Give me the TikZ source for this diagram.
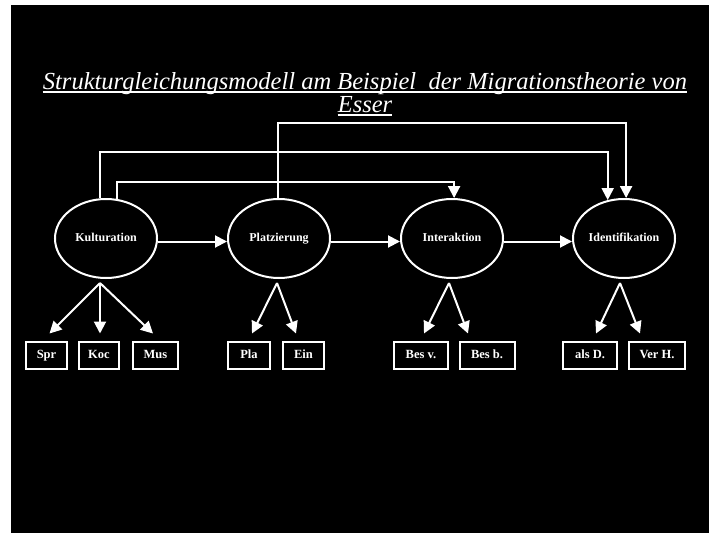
\documentclass[tikz,border=0pt]{standalone}
\usepackage{fontspec}
\setmainfont{Liberation Serif}
\usetikzlibrary{arrows.meta,shapes.geometric}
\begin{document}
\begin{tikzpicture}[x=1pt,y=-1pt,
  wire/.style={white,line width=2pt},
  arr/.style={wire,-{Triangle[length=12pt,width=12pt]}},
  latent/.style={ellipse,draw=white,line width=2pt,minimum width=102pt,
    minimum height=79pt,inner sep=0pt,text=white,text height=8.5pt,
    text depth=2.5pt,font=\bfseries\fontsize{12}{14}\selectfont},
  indicator/.style={rectangle,draw=white,fill=black,line width=2pt,
    minimum height=27pt,inner sep=0pt,text=white,text height=8.5pt,
    text depth=2.5pt,font=\bfseries\fontsize{12.5}{14}\selectfont},
  heading/.style={text=white,inner sep=0pt,
    font=\itshape\fontsize{24.5}{28}\selectfont},
  uline/.style={white,line width=1.4pt}]
\useasboundingbox (0,0) rectangle (709,533);
\fill[white] (0,0) rectangle (709,533);
\fill[black] (11,5) rectangle (709,533);

% heading, underlined
\node[heading,anchor=base] (t1) at (365,89)
  {Strukturgleichungsmodell am Beispiel\ \ der Migrationstheorie von};
\node[heading,anchor=base] (t2) at (365,112) {Esser};
\draw[uline] ([yshift=-3pt]t1.base west) -- ([yshift=-3pt]t1.base east);
\draw[uline] ([yshift=-3pt]t2.base west) -- ([yshift=-3pt]t2.base east);

% latent variables
\node[latent] (kul) at (106,238.5) {Kulturation};
\node[latent] (pla) at (279,238.5) {Platzierung};
\node[latent] (int) at (452,238.5) {Interaktion};
\node[latent] (ide) at (624,238.5) {Identifikation};

% indicators
\node[indicator,minimum width=41pt] (spr) at (46.5,355) {Spr};
\node[indicator,minimum width=40pt] (koc) at (99,355) {Koc};
\node[indicator,minimum width=45pt] (mus) at (155.5,355) {Mus};
\node[indicator,minimum width=42pt] (plz) at (249,355) {Pla};
\node[indicator,minimum width=41pt] (ein) at (303.5,355) {Ein};
\node[indicator,minimum width=54pt] (bsv) at (421,355) {Bes v.};
\node[indicator,minimum width=55pt] (bsb) at (487,355) {Bes b.};
\node[indicator,minimum width=54pt] (ald) at (590,355) {als D.};
\node[indicator,minimum width=56pt] (vrh) at (657,355) {Ver H.};

% structural paths
\draw[arr] ([yshift=-3pt]kul.east) -- ([yshift=-3pt]pla.west);
\draw[arr] ([yshift=-3pt]pla.east) -- ([yshift=-3pt]int.west);
\draw[arr] ([yshift=-3pt]int.east) -- ([yshift=-3pt]ide.west);

\coordinate (r1) at (0,123);
\coordinate (r2) at (0,152);
\coordinate (r3) at (0,182);
\draw[arr] (pla.91) -- (pla.91 |- r1) -| (ide.87);
\draw[arr] (kul.99) -- (kul.99 |- r2) -| (ide.113);
\draw[arr] (kul.74) -- (kul.74 |- r3) -| (int.87);

% measurement paths
\coordinate (ko) at (100,283);
\coordinate (po) at (277,283);
\coordinate (io) at (449,283);
\coordinate (do) at (620,283);
\draw[arr] (ko) -- ([xshift=3pt,yshift=7pt]spr.north);
\draw[arr] (ko) -- ([xshift=1pt,yshift=7pt]koc.north);
\draw[arr] (ko) -- ([xshift=-2.5pt,yshift=7pt]mus.north);
\draw[arr] (po) -- ([xshift=3pt,yshift=7pt]plz.north);
\draw[arr] (po) -- ([xshift=-7.5pt,yshift=7pt]ein.north);
\draw[arr] (io) -- ([xshift=3pt,yshift=7pt]bsv.north);
\draw[arr] (io) -- ([xshift=-19pt,yshift=7pt]bsb.north);
\draw[arr] (do) -- ([xshift=6pt,yshift=7pt]ald.north);
\draw[arr] (do) -- ([xshift=-17pt,yshift=7pt]vrh.north);
\end{tikzpicture}
\end{document}
